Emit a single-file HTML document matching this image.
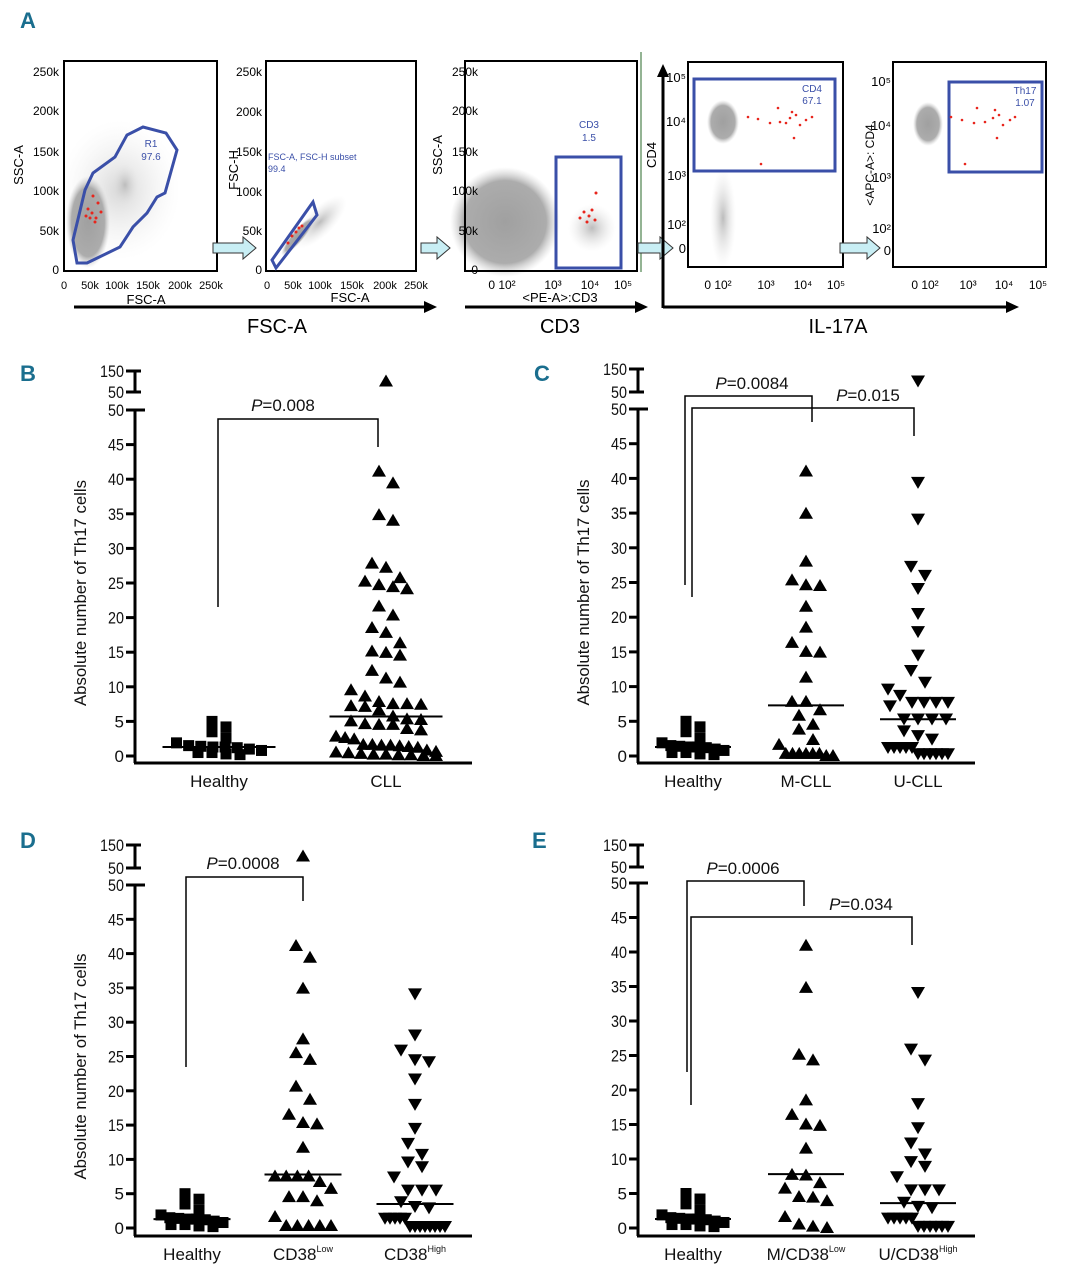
<!DOCTYPE html>
<html><head><meta charset="utf-8">
<style>
html,body{margin:0;padding:0;background:#fff;}
body{width:1067px;height:1280px;overflow:hidden;position:relative;}
svg{position:absolute;left:0;top:0;}
text{font-family:"Liberation Sans Narrow","Liberation Sans",sans-serif;}
.pl{font-family:"Liberation Sans",sans-serif;font-weight:bold;fill:#1a6e8e;font-size:22px;}
</style></head>
<body>
<svg id="fig" width="1067" height="1280" viewBox="0 0 1067 1280" xmlns="http://www.w3.org/2000/svg">
<defs>
<radialGradient id="cloud" cx="50%" cy="50%" r="50%"><stop offset="0" stop-color="#a0a0a0"/><stop offset="0.75" stop-color="#acacac"/><stop offset="1" stop-color="#d0d0d0" stop-opacity="0"/></radialGradient>
<radialGradient id="cloudL" cx="50%" cy="50%" r="50%"><stop offset="0" stop-color="#bcbcbc"/><stop offset="1" stop-color="#e8e8e8" stop-opacity="0"/></radialGradient>
</defs>
<text class="pl" x="20" y="28">A</text>
<text class="pl" x="20" y="381">B</text>
<text class="pl" x="534" y="381">C</text>
<text class="pl" x="20" y="848">D</text>
<text class="pl" x="532" y="848">E</text>

<g font-size="12">
 <g>
  <ellipse cx="120" cy="190" rx="60" ry="70" fill="url(#cloudL)" opacity="0.6"/>
  <ellipse cx="125" cy="185" rx="14" ry="22" fill="url(#cloudL)"/>
  <ellipse cx="88" cy="222" rx="22" ry="46" fill="url(#cloud)"/>
  <rect x="64" y="61" width="153" height="210" fill="none" stroke="#000" stroke-width="2"/>
  <polygon points="77,263 87,263 120,247 133,227 147,213 157,197 165,193 177,150 166,133 143,127 127,135 115,157 93,173 85,190 73,240" fill="none" stroke="#3a4fa8" stroke-width="3"/>
  <g fill="#e8251c"><circle cx="92" cy="213" r="1.5"/><circle cx="96" cy="218" r="1.5"/><circle cx="88" cy="209" r="1.5"/><circle cx="98" cy="203" r="1.5"/><circle cx="95" cy="222" r="1.5"/><circle cx="90" cy="218" r="1.5"/><circle cx="101" cy="212" r="1.5"/><circle cx="93" cy="196" r="1.5"/><circle cx="86" cy="216" r="1.5"/></g>
  <text x="151" y="147" fill="#3a4fa8" font-size="10" text-anchor="middle">R1</text>
  <text x="151" y="160" fill="#3a4fa8" font-size="10" text-anchor="middle">97.6</text>
  <g text-anchor="end"><text x="59" y="76">250k</text><text x="59" y="115">200k</text><text x="59" y="156">150k</text><text x="59" y="195">100k</text><text x="59" y="235">50k</text><text x="59" y="274">0</text></g>
  <g text-anchor="middle" font-size="11"><text x="64" y="289">0</text><text x="90" y="289">50k</text><text x="117" y="289">100k</text><text x="148" y="289">150k</text><text x="180" y="289">200k</text><text x="211" y="289">250k</text></g>
  <text x="146" y="304" text-anchor="middle" font-size="13">FSC-A</text>
  <text transform="translate(23,165) rotate(-90)" text-anchor="middle" font-size="13">SSC-A</text>
 </g>
 <g>
  <ellipse cx="320" cy="222" rx="35" ry="14" transform="rotate(-45 320 222)" fill="url(#cloudL)"/>
  <ellipse cx="298" cy="236" rx="25" ry="6" transform="rotate(-50 298 236)" fill="url(#cloud)"/>
  <rect x="266" y="61" width="150" height="210" fill="none" stroke="#000" stroke-width="2"/>
  <polygon points="272,260 276,268 317,215 313,202" fill="none" stroke="#3a4fa8" stroke-width="3"/>
  <g fill="#e8251c"><circle cx="292" cy="236" r="1.5"/><circle cx="296" cy="232" r="1.5"/><circle cx="299" cy="228" r="1.5"/><circle cx="288" cy="243" r="1.5"/><circle cx="302" cy="226" r="1.5"/></g>
  <text x="268" y="160" fill="#3a4fa8" font-size="9">FSC-A, FSC-H subset</text>
  <text x="268" y="172" fill="#3a4fa8" font-size="9">99.4</text>
  <g text-anchor="end"><text x="262" y="76">250k</text><text x="262" y="116">200k</text><text x="262" y="156">150k</text><text x="262" y="196">100k</text><text x="262" y="235">50k</text><text x="262" y="274">0</text></g>
  <g text-anchor="middle" font-size="11"><text x="267" y="289">0</text><text x="293" y="289">50k</text><text x="320" y="289">100k</text><text x="352" y="289">150k</text><text x="385" y="289">200k</text><text x="416" y="289">250k</text></g>
  <text x="350" y="302" text-anchor="middle" font-size="13">FSC-A</text>
  <text transform="translate(238,170) rotate(-90)" text-anchor="middle" font-size="13">FSC-H</text>
 </g>
 <g>
  <ellipse cx="505" cy="222" rx="55" ry="55" fill="url(#cloud)"/>
  <ellipse cx="592" cy="228" rx="24" ry="24" fill="url(#cloudL)"/>
  <rect x="465" y="61" width="172" height="210" fill="none" stroke="#000" stroke-width="2"/>
  <rect x="556" y="157" width="65" height="111" fill="none" stroke="#3a4fa8" stroke-width="3"/>
  <g fill="#e8251c"><circle cx="584" cy="212" r="1.5"/><circle cx="589" cy="216" r="1.5"/><circle cx="592" cy="210" r="1.5"/><circle cx="580" cy="218" r="1.5"/><circle cx="595" cy="220" r="1.5"/><circle cx="596" cy="193" r="1.5"/><circle cx="587" cy="222" r="1.5"/></g>
  <text x="589" y="128" fill="#3a4fa8" font-size="10" text-anchor="middle">CD3</text>
  <text x="589" y="141" fill="#3a4fa8" font-size="10" text-anchor="middle">1.5</text>
  <g text-anchor="end"><text x="478" y="76">250k</text><text x="478" y="115">200k</text><text x="478" y="156">150k</text><text x="478" y="195">100k</text><text x="478" y="235">50k</text><text x="478" y="274">0</text></g>
  <g text-anchor="middle" font-size="12"><text x="502" y="289">0 10²</text><text x="553" y="289">10³</text><text x="590" y="289">10⁴</text><text x="623" y="289">10⁵</text></g>
  <text x="560" y="302" text-anchor="middle" font-size="13">&lt;PE-A&gt;:CD3</text>
  <text transform="translate(442,155) rotate(-90)" text-anchor="middle" font-size="13">SSC-A</text>
  <line x1="641" y1="52" x2="641" y2="272" stroke="#2a6a2a" stroke-width="1"/>
 </g>
 <g>
  <ellipse cx="723" cy="122" rx="16" ry="22" fill="url(#cloud)"/>
  <ellipse cx="723" cy="218" rx="13" ry="50" fill="url(#cloudL)"/>
  <rect x="688" y="62" width="155" height="205" fill="none" stroke="#000" stroke-width="2"/>
  <rect x="694" y="79" width="141" height="92" fill="none" stroke="#3a4fa8" stroke-width="3"/>
  <g fill="#e8251c"><circle cx="748" cy="117" r="1.3"/><circle cx="758" cy="119" r="1.3"/><circle cx="770" cy="123" r="1.3"/><circle cx="778" cy="108" r="1.3"/><circle cx="780" cy="122" r="1.3"/><circle cx="790" cy="118" r="1.3"/><circle cx="792" cy="112" r="1.3"/><circle cx="796" cy="115" r="1.3"/><circle cx="800" cy="125" r="1.3"/><circle cx="794" cy="138" r="1.3"/><circle cx="806" cy="120" r="1.3"/><circle cx="812" cy="117" r="1.3"/><circle cx="761" cy="164" r="1.3"/><circle cx="786" cy="123" r="1.3"/></g>
  <text x="812" y="92" fill="#3a4fa8" font-size="10" text-anchor="middle">CD4</text>
  <text x="812" y="104" fill="#3a4fa8" font-size="10" text-anchor="middle">67.1</text>
  <g text-anchor="end" font-size="13"><text x="686" y="82">10⁵</text><text x="686" y="126">10⁴</text><text x="686" y="180">10³</text><text x="686" y="229">10²</text><text x="686" y="253">0</text></g>
  <g text-anchor="middle" font-size="12"><text x="718" y="289">0 10²</text><text x="766" y="289">10³</text><text x="803" y="289">10⁴</text><text x="836" y="289">10⁵</text></g>
  <text transform="translate(656,155) rotate(-90)" text-anchor="middle" font-size="13">CD4</text>
 </g>
 <g>
  <ellipse cx="928" cy="124" rx="15" ry="22" fill="url(#cloud)"/>
  <rect x="893" y="62" width="153" height="205" fill="none" stroke="#000" stroke-width="2"/>
  <rect x="949" y="82" width="93" height="90" fill="none" stroke="#3a4fa8" stroke-width="3"/>
  <g fill="#e8251c"><circle cx="951" cy="117" r="1.3"/><circle cx="962" cy="120" r="1.3"/><circle cx="974" cy="123" r="1.3"/><circle cx="977" cy="108" r="1.3"/><circle cx="985" cy="122" r="1.3"/><circle cx="993" cy="118" r="1.3"/><circle cx="995" cy="110" r="1.3"/><circle cx="999" cy="115" r="1.3"/><circle cx="1003" cy="125" r="1.3"/><circle cx="997" cy="138" r="1.3"/><circle cx="1010" cy="120" r="1.3"/><circle cx="1015" cy="117" r="1.3"/><circle cx="965" cy="164" r="1.3"/></g>
  <text x="1025" y="94" fill="#3a4fa8" font-size="10" text-anchor="middle">Th17</text>
  <text x="1025" y="106" fill="#3a4fa8" font-size="10" text-anchor="middle">1.07</text>
  <g text-anchor="end" font-size="13"><text x="891" y="86">10⁵</text><text x="891" y="130">10⁴</text><text x="891" y="182">10³</text><text x="891" y="233">10²</text><text x="891" y="255">0</text></g>
  <g text-anchor="middle" font-size="12"><text x="925" y="289">0 10²</text><text x="968" y="289">10³</text><text x="1004" y="289">10⁴</text><text x="1038" y="289">10⁵</text></g>
  <text transform="translate(874,165) rotate(-90)" text-anchor="middle" font-size="12">&lt;APC-A&gt;: CD4</text>
 </g>
 <g fill="#c8eef4" stroke="#333" stroke-width="1">
  <polygon points="213,243 243,243 243,237 256,248 243,259 243,253 213,253"/>
  <polygon points="421,243 437,243 437,237 450,248 437,259 437,253 421,253"/>
  <polygon points="638,243 660,243 660,237 673,248 660,259 660,253 638,253"/>
  <polygon points="840,243 867,243 867,237 880,248 867,259 867,253 840,253"/>
 </g>
 <g stroke="#000" stroke-width="3" fill="#000">
  <line x1="74" y1="307" x2="426" y2="307"/><polygon points="424,301 437,307 424,313" stroke="none"/>
  <line x1="465" y1="307" x2="637" y2="307"/><polygon points="635,301 648,307 635,313" stroke="none"/>
  <line x1="663" y1="307" x2="1008" y2="307"/><polygon points="1006,301 1019,307 1006,313" stroke="none"/>
  <line x1="663" y1="308" x2="663" y2="75"/><polygon points="657,77 663,64 669,77" stroke="none"/>
 </g>
 <g font-size="20" text-anchor="middle"><text x="277" y="333">FSC-A</text><text x="560" y="333">CD3</text><text x="838" y="333">IL-17A</text></g>
</g>

<g id="dotplots"></g>
</svg>
<script>
const healthy = [5.0, 4.2, 3.5, 2.6, 1.9, 1.5, 1.4, 1.3, 1.3, 1.2, 1.0, 0.8, 0.5, 0.5, 0.3, 0.2];

const bCategories = ["Healthy", "CLL"];
const bCLL = [41.1,39.4,34.8,34.0,27.8,27.2,25.7,25.2,24.4,24.1,24.7,21.6,20.3,18.5,17.8,16.3,15.1,14.5,14.9,12.3,11.2,10.6,9.5,8.6,7.8,7.5,7.1,7.4,6.6,7.2,7.5,5.3,5.0,4.6,4.5,4.5,5.2,5.7,3.9,3.7,2.6,2.4,2.8,1.6,1.5,1.4,1.5,1.3,1.6,1.2,0.8,0.6,0.5,0.4,0.3,0.2,0.2,0.1,0.1,0.0,0.0];
const bOutliers = [[], [100]];
const bMedians = [1.3, 5.7];

const cCategories = ["Healthy", "M-CLL", "U-CLL"];
const cMCLL = [41.0,34.9,28.0,25.3,24.5,24.6,21.5,18.5,16.3,15.0,14.9,11.3,7.8,7.8,6.6,5.8,4.5,3.8,2.3,1.6,0.3,0.3,0.3,0.3,0.3,0.3,0.0,0.0];
const cUCLL = [39.5,34.2,27.4,26.1,24.2,20.6,18.0,14.6,12.4,10.7,9.7,8.8,7.8,7.8,7.8,7.8,7.3,5.4,5.4,5.4,5.4,3.7,3.0,2.5,1.3,1.3,1.3,1.3,1.3,0.4,0.4,0.4,0.4,0.4,0.4];
const cOutliers = [[], [], [100]];
const cMedians = [1.3, 7.3, 5.3];

const dCategories = ["Healthy", "CD38", "CD38"];
const dSup = ["", "Low", "High"];
const dLow = [41.1,39.4,34.9,27.5,25.5,24.5,20.6,18.7,16.5,15.1,15.3,11.7,7.5,7.5,7.5,7.5,6.7,5.7,4.5,4.5,3.9,1.6,0.3,0.3,0.3,0.3,0.3];
const dHigh = [34.2,28.2,26.0,24.6,24.3,21.8,18.1,14.6,12.4,10.8,9.7,9.0,7.5,5.6,5.6,5.6,3.9,3.2,3.0,1.5,1.5,1.5,1.5,1.5,0.3,0.3,0.3,0.3,0.3,0.3,0.3,0.3];
const dOutliers = [[], [100], []];
const dMedians = [1.3, 7.8, 3.5];

const eCategories = ["Healthy", "M/CD38", "U/CD38"];
const eSup = ["", "Low", "High"];
const eLow = [40.9,34.8,24.3,25.1,18.5,16.4,15.0,14.8,11.5,7.7,7.6,6.5,5.7,4.5,4.4,3.9,1.6,0.5,0.0,0.2];
const eHigh = [34.2,26.0,24.4,18.1,14.6,12.4,10.8,9.7,9.0,7.5,5.6,5.6,5.6,3.8,3.2,3.0,1.5,1.5,1.5,1.5,1.5,0.3,0.3,0.3,0.3,0.3,0.3];
const eOutliers = [[], [], []];
const eMedians = [1.3, 7.8, 3.6];

const yTicks = [0,5,10,15,20,25,30,35,40,45,50];
const yBreakTicks = [50,150];

const NS = "http://www.w3.org/2000/svg";
const root = document.getElementById("dotplots");
function el(tag, attrs, parent){ const e=document.createElementNS(NS,tag); for(const k in attrs) e.setAttribute(k,attrs[k]); (parent||root).appendChild(e); return e; }

function spread(values, maxW, thr){
  const sorted = values.map((v,i)=>({v,i})).sort((a,b)=>b.v-a.v);
  const out = new Array(values.length).fill(0);
  let k=0;
  while(k<sorted.length){
    let j=k; while(j+1<sorted.length && sorted[k].v - sorted[j+1].v < thr) j++;
    const n=j-k+1; const sp = n>1 ? Math.min(14, maxW/(n-1)) : 0;
    for(let m=0;m<n;m++) out[sorted[k+m].i] = (m-(n-1)/2)*sp;
    k=j+1;
  }
  return out;
}

function panel(cfg){
  const g = el("g",{});
  
  
  const yv = v => cfg.y0 - v*(cfg.y0-cfg.y50)/50;
  const yb = v => cfg.yb50 - (v-50)/100*(cfg.yb50-cfg.y150);
  const ax = el("g",{stroke:"#000","stroke-width":3,fill:"none"},g);
   
  el("line",{x1:cfg.ax,y1:yv(50)-1,x2:cfg.ax,y2:cfg.xy},ax);
  el("line",{x1:cfg.ax-9,y1:yv(50),x2:cfg.ax+10,y2:yv(50)},ax);
  el("line",{x1:cfg.ax,y1:yb(150),x2:cfg.ax,y2:yb(50)},ax);
  yBreakTicks.forEach(t=>el("line",{x1:cfg.ax-9,y1:yb(t),x2:cfg.ax+6,y2:yb(t)},ax));
  yTicks.forEach(t=>el("line",{x1:cfg.ax-9,y1:yv(t),x2:cfg.ax,y2:yv(t)},ax));
  const xa = el("line",{x1:cfg.ax-1,y1:cfg.xy,x2:cfg.xEnd,y2:cfg.xy,stroke:"#000","stroke-width":3},g);
   
  const tl = el("g",{"font-size":17,"text-anchor":"end",fill:"#111"},g);
  yTicks.forEach(t=>{ const tx=el("text",{x:cfg.ax-11,y:yv(t)+6},tl); tx.textContent=t;
    if(String(t).length>1){tx.setAttribute('textLength',16);tx.setAttribute('lengthAdjust','spacingAndGlyphs');}
      });
  yBreakTicks.forEach(t=>{ const tx=el("text",{x:cfg.ax-11,y:yb(t)+6},tl); tx.textContent=t;
    tx.setAttribute('textLength',String(t).length*8);tx.setAttribute('lengthAdjust','spacingAndGlyphs');
      });
  if(cfg.ylabel){
    const yl=el("text",{transform:`translate(${cfg.ax-49},${(cfg.y0+cfg.y50)/2+10}) rotate(-90)`,"text-anchor":"middle","font-size":17,fill:"#111",textLength:226,lengthAdjust:"spacingAndGlyphs"},g);
    yl.textContent="Absolute number of Th17 cells";
     
  }
  cfg.groups.forEach((grp,gi)=>{
    const cx=cfg.xs[gi];
    const offs=spread(grp.values, grp.maxW, grp.thr);
    const gg=el("g",{fill:"#000"},g);
    
    
    const mark=(x,y)=>{
      let m;
      if(grp.shape==="sq") m=el("rect",{x:x-5.5,y:y-5.5,width:11,height:11},gg);
      else if(grp.shape==="up") m=el("polygon",{points:`${x},${y-7} ${x+7},${y+5} ${x-7},${y+5}`},gg);
      else m=el("polygon",{points:`${x-7},${y-5} ${x+7},${y-5} ${x},${y+7}`},gg);
       
    };
    grp.values.forEach((v,i)=>mark(cx+offs[i], yv(v)));
    cfg.outliers[gi].forEach(v=>mark(cx, yb(v)));
    const md=el("line",{x1:cx-cfg.medW/2,y1:yv(cfg.medians[gi]),x2:cx+cfg.medW/2,y2:yv(cfg.medians[gi]),stroke:"#000","stroke-width":2},g);
     
    const lb=el("text",{x:cx,y:cfg.xy+24,"text-anchor":"middle","font-size":17,fill:"#111"},g);
    lb.textContent=cfg.cats[gi];
    if(cfg.sup && cfg.sup[gi]){ const s=el("tspan",{"font-size":9,dy:-8},lb); s.textContent=cfg.sup[gi]; }
     
  });
  cfg.brackets.forEach(b=>{
    const bg=el("g",{},g);
     
    el("polyline",{points:`${b.x1},${b.l} ${b.x1},${b.y} ${b.x2},${b.y} ${b.x2},${b.r}`,fill:"none",stroke:"#000","stroke-width":1.5},bg);
    const t=el("text",{x:b.tx,y:b.ty,"text-anchor":"middle","font-size":17,fill:"#111"},bg);
    const i=el("tspan",{"font-style":"italic"},t); i.textContent="P";
    const r=el("tspan",{},t); r.textContent="="+b.p;
  });
}

panel({name:"panel-b-chart",ax:135,y0:756,y50:410,yb50:392,y150:371,xy:763,xEnd:472,ylabel:true,
  cats:bCategories,xs:[219,386],medW:113,medians:bMedians,outliers:bOutliers,
  groups:[{values:healthy,shape:"sq",maxW:85,thr:1.4},{values:bCLL,shape:"up",maxW:100,thr:2.2}],
  brackets:[{x1:218,x2:378,y:419,l:607,r:447,tx:283,ty:411,p:"0.008"}]});
panel({name:"panel-c-chart",ax:638,y0:756,y50:409,yb50:392,y150:369,xy:763,xEnd:975,ylabel:true,
  cats:cCategories,xs:[693,806,918],medW:76,medians:cMedians,outliers:cOutliers,
  groups:[{values:healthy,shape:"sq",maxW:62,thr:1.4},{values:cMCLL,shape:"up",maxW:54,thr:2.0},{values:cUCLL,shape:"down",maxW:60,thr:2.0}],
  brackets:[{x1:685,x2:812,y:396,l:585,r:422,tx:752,ty:389,p:"0.0084"},{x1:692,x2:914,y:408,l:597,r:436,tx:868,ty:401,p:"0.015"}]});
panel({name:"panel-d-chart",ax:135,y0:1228,y50:885,yb50:868,y150:845,xy:1236,xEnd:472,ylabel:true,
  cats:dCategories,sup:dSup,xs:[192,303,415],medW:77,medians:dMedians,outliers:dOutliers,
  groups:[{values:healthy,shape:"sq",maxW:62,thr:1.4},{values:dLow,shape:"up",maxW:56,thr:2.0},{values:dHigh,shape:"down",maxW:60,thr:2.0}],
  brackets:[{x1:186,x2:303,y:877,l:1067,r:901,tx:243,ty:869,p:"0.0008"}]});
panel({name:"panel-e-chart",ax:638,y0:1228,y50:883,yb50:867,y150:845,xy:1236,xEnd:975,ylabel:false,
  cats:eCategories,sup:eSup,xs:[693,806,918],medW:76,medians:eMedians,outliers:eOutliers,
  groups:[{values:healthy,shape:"sq",maxW:62,thr:1.4},{values:eLow,shape:"up",maxW:44,thr:2.0},{values:eHigh,shape:"down",maxW:60,thr:2.0}],
  brackets:[{x1:687,x2:804,y:881,l:1072,r:906,tx:743,ty:874,p:"0.0006"},{x1:691,x2:912,y:917,l:1105,r:945,tx:861,ty:910,p:"0.034"}]});
</script>
</body></html>
